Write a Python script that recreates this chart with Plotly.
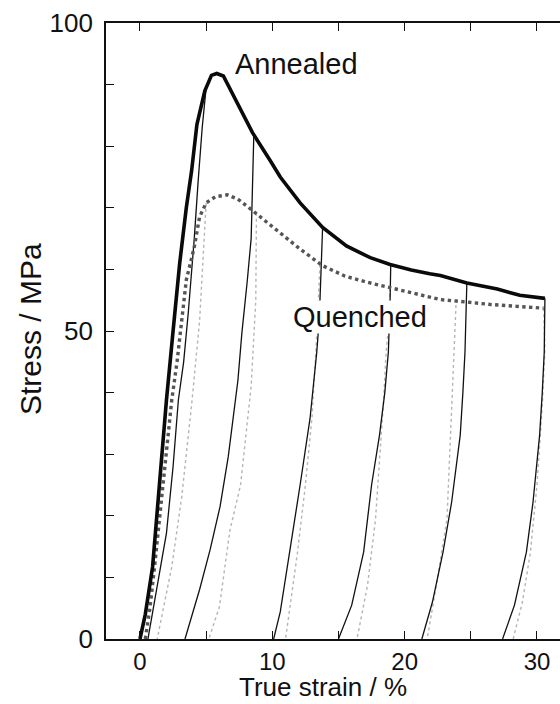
import plotly.graph_objects as go

# Tensile stress-strain curves with unloading cycles
# Annealed specimen: loading curve (true strain %, stress MPa)
annealed_strain = [0.0, 0.4, 0.95, 1.5, 2.0, 2.5, 3.0, 3.5, 3.9, 4.3, 4.9, 5.4, 5.8,
                   6.3, 6.8, 7.5, 8.5, 9.8, 10.6, 12.1, 13.8, 15.6, 17.4, 18.9, 20.5,
                   21.9, 22.7, 24.7, 27.0, 28.7, 30.6]
annealed_stress = [0.0, 4.0, 11.7, 26.0, 38.8, 50.0, 61.0, 70.0, 76.0, 83.5, 89.0, 91.5, 91.8,
                   91.4, 89.3, 86.2, 82.2, 77.8, 75.0, 70.8, 66.8, 63.8, 61.9, 60.8, 59.9,
                   59.3, 59.0, 57.8, 56.8, 55.8, 55.3]

# Quenched specimen: loading curve
quenched_strain = [0.4, 0.75, 1.1, 1.8, 2.4, 2.8, 3.1, 3.5, 4.1, 4.5, 5.0, 5.7, 6.6,
                   7.4, 8.3, 9.5, 10.8, 12.1, 13.8, 15.5, 17.2, 18.9, 20.8, 22.7, 24.7,
                   26.5, 28.5, 30.5]
quenched_stress = [0.0, 5.0, 11.7, 26.0, 38.8, 45.0, 51.0, 58.3, 63.6, 68.5, 70.8, 71.8, 72.1,
                   71.4, 69.9, 67.8, 65.4, 63.3, 60.6, 58.9, 57.9, 57.0, 56.0, 55.1, 54.7,
                   54.3, 54.0, 53.7]

# Unloading branches of the annealed specimen
annealed_unload_strain = [
    [5.0, 4.7, 4.4, 4.1, 3.65, 3.3, 2.9, 2.5, 2.0, 1.3, 0.8, 0.6],
    [8.6, 8.5, 8.4, 8.1, 7.7, 7.4, 7.2, 6.67, 6.05, 5.3, 4.5, 3.9, 3.4],
    [13.8, 13.7, 13.55, 13.36, 12.85, 12.1, 11.3, 10.6, 10.1],
    [18.95, 18.9, 18.77, 18.5, 18.1, 17.5, 16.9, 16.0, 15.0],
    [24.7, 24.65, 24.56, 24.4, 24.2, 23.55, 22.9, 22.1, 21.3],
    [30.6, 30.6, 30.55, 30.4, 30.2, 29.7, 29.2, 28.3, 27.4],
]
annealed_unload_stress = [
    [89.5, 83.0, 74.5, 65.0, 53.0, 45.0, 38.8, 28.0, 17.2, 8.5, 2.0, 0.0],
    [81.8, 74.5, 65.0, 58.0, 49.7, 42.0, 38.8, 29.6, 21.5, 14.5, 8.0, 3.6, 0.0],
    [66.8, 60.0, 52.0, 46.6, 35.8, 25.0, 14.0, 4.4, 0.0],
    [60.8, 55.0, 46.6, 40.0, 33.1, 25.0, 14.1, 5.5, 0.0],
    [57.8, 52.0, 46.6, 40.0, 33.1, 22.2, 14.1, 6.0, 0.0],
    [55.3, 50.0, 46.6, 40.0, 33.1, 22.2, 14.1, 5.5, 0.0],
]

# Unloading branches of the quenched specimen
quenched_unload_strain = [
    [5.0, 4.5, 3.9, 3.15, 2.4, 1.7, 1.3],
    [8.8, 8.75, 8.4, 7.6, 6.8, 6.0, 5.2],
    [13.6, 13.3, 13.0, 12.5, 11.9, 11.4, 11.0],
    [18.9, 18.75, 18.6, 18.4, 17.8, 17.2, 16.4],
    [23.9, 23.8, 23.7, 23.5, 23.2, 22.4, 21.7],
    [30.5, 30.6, 30.4, 30.0, 29.5, 28.9, 28.2],
]
quenched_unload_stress = [
    [70.8, 51.5, 38.0, 23.0, 11.7, 4.0, 0.0],
    [69.2, 55.0, 41.0, 25.0, 17.7, 5.2, 0.0],
    [60.8, 47.0, 36.0, 25.0, 14.0, 6.0, 0.0],
    [57.0, 50.0, 46.6, 38.5, 19.5, 8.8, 0.0],
    [55.2, 50.0, 44.0, 33.0, 19.5, 8.8, 0.0],
    [53.7, 47.0, 38.0, 25.0, 14.0, 6.0, 0.0],
]

x_ticks = [0, 5, 10, 15, 20, 25, 30]
x_tick_text = ["0", "", "10", "", "20", "", "30"]
y_ticks = [0, 10, 20, 30, 40, 50, 60, 70, 80, 90, 100]
y_tick_text = ["0", "", "", "", "", "50", "", "", "", "", "100"]

FONT = "Liberation Sans, Arial, sans-serif"

fig = go.Figure()

for xs, ys in zip(quenched_unload_strain, quenched_unload_stress):
    fig.add_trace(go.Scatter(x=xs, y=ys, mode="lines",
                             line=dict(color="#b5b5b5", width=1.4, dash="dot"),
                             showlegend=False, hoverinfo="skip"))

for xs, ys in zip(annealed_unload_strain, annealed_unload_stress):
    fig.add_trace(go.Scatter(x=xs, y=ys, mode="lines",
                             line=dict(color="#111111", width=1.3),
                             showlegend=False, hoverinfo="skip"))

fig.add_trace(go.Scatter(x=quenched_strain, y=quenched_stress, mode="lines",
                         line=dict(color="#555555", width=3.4, dash="dot"),
                         showlegend=False, name="Quenched"))
fig.add_trace(go.Scatter(x=annealed_strain, y=annealed_stress, mode="lines",
                         line=dict(color="#0a0a0a", width=3.6),
                         showlegend=False, name="Annealed"))

fig.add_annotation(x=11.83, y=93.3, xref="x", yref="y", text="Annealed",
                   showarrow=False, font=dict(family=FONT, size=29, color="#111"))
fig.add_annotation(x=16.59, y=52.3, xref="x", yref="y", text="Quenched",
                   showarrow=False, bgcolor="white", borderpad=0,
                   font=dict(family=FONT, size=29, color="#111"))

# Axis titles
fig.add_annotation(x=(323 - 106) / 454, y=-(704 - 639) / 616, xref="paper", yref="paper",
                   text="True strain / %", showarrow=False, xanchor="center", yanchor="bottom",
                   font=dict(family=FONT, size=26, color="#111"))
fig.add_annotation(x=-(106 - 30) / 454, y=(639 - 329) / 616, xref="paper", yref="paper",
                   text="Stress / MPa", showarrow=False, textangle=-90,
                   xanchor="center", yanchor="middle",
                   font=dict(family=FONT, size=30, color="#111"))

fig.update_xaxes(range=[-2.569, 31.74], tickvals=x_ticks, ticktext=x_tick_text,
                 ticks="inside", ticklen=8, tickwidth=1.3, tickcolor="#111",
                 showline=True, linecolor="#111", linewidth=1.6, mirror="ticks",
                 showgrid=False, zeroline=False, ticklabelstandoff=0,
                 tickfont=dict(family=FONT, size=24, color="#111"))
fig.update_yaxes(range=[0, 100], tickvals=y_ticks, ticktext=y_tick_text,
                 ticks="inside", ticklen=8, tickwidth=1.3, tickcolor="#111",
                 showline=True, linecolor="#111", linewidth=1.6, mirror=False,
                 showgrid=False, zeroline=False, ticklabelstandoff=6,
                 tickfont=dict(family=FONT, size=26, color="#111"))

fig.update_layout(width=560, height=704,
                  margin=dict(l=106, r=0, t=23, b=65),
                  paper_bgcolor="white", plot_bgcolor="white",
                  showlegend=False)

fig.write_html("out.html")
